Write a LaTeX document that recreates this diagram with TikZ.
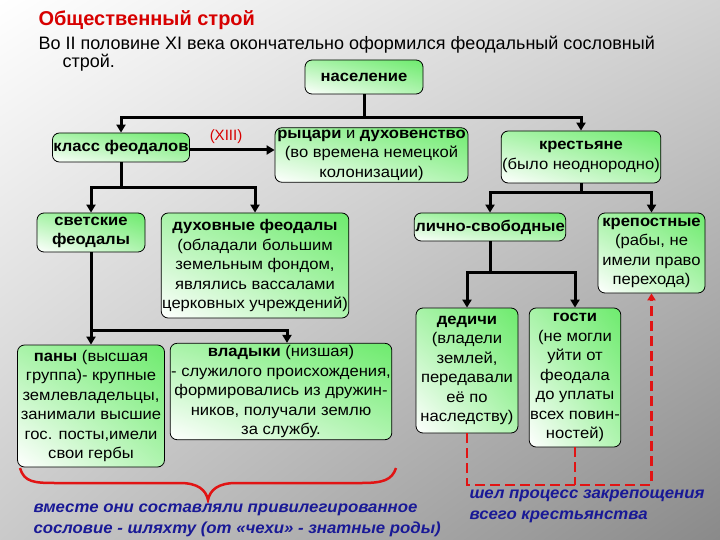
\documentclass[tikz,border=0pt]{standalone}
\usepackage{fontspec}
\setmainfont{Liberation Sans}
\newfontfamily\boxfam[FakeStretch=1.07]{Liberation Sans}
\newfontfamily\notefam[FakeStretch=1.05]{Liberation Sans}
\usetikzlibrary{arrows.meta,shadings}
\definecolor{boxgreen}{RGB}{110,235,110}
\definecolor{titlered}{RGB}{215,0,0}
\definecolor{notblue}{RGB}{25,25,150}
\definecolor{dashred}{RGB}{225,20,20}
\newcommand\boxfont{\boxfam\fontsize{15.5}{19.5}\selectfont}
\tikzset{
  box/.style={draw=black, line width=0.8pt, rounded corners=7pt,
    upper left=boxgreen!60!white, upper right=boxgreen,
    lower left=white, lower right=boxgreen!55!white,
    align=center, inner xsep=1pt, inner ysep=2pt, font=\boxfont},
  conn/.style={line width=3pt, -{Triangle[length=8pt,width=9pt]}},
  link/.style={line width=3pt},
  reddash/.style={dashred, line width=2.6pt, dash pattern=on 10pt off 5pt},
  note/.style={notblue, font=\notefam\fontsize{16}{21}\selectfont\bfseries\itshape, align=left, anchor=west}
}
\begin{document}
\begin{tikzpicture}[x=1pt,y=-1pt]
\shade[upper left=white, upper right=gray!35, lower left=gray!42, lower right=gray!92]
  (0,0) rectangle (720,540);
\useasboundingbox (0,0) rectangle (720,540);
\node[anchor=west, text=titlered, font=\fontsize{20}{23}\selectfont\bfseries] (title) at (35,20) {Общественный строй};
\node[anchor=west, font=\fontsize{18}{21}\selectfont] (sub1) at (35,45) {Во II половине XI века окончательно оформился феодальный сословный};
\node[anchor=west, font=\fontsize{18}{21}\selectfont] (sub2) at (59,63) {строй.};

\node[box, minimum width=118pt, minimum height=34pt] (nas) at (364,77) {\textbf{население}};
\node[box, minimum width=137pt, minimum height=29pt] (klass) at (121,147.5) {\textbf{класс феодалов}};
\node[box, minimum width=193pt, minimum height=54pt] (ryc) at (371.5,155) {\textbf{рыцари} и \textbf{духовенство}\\(во времена немецкой\\колонизации)};
\node[box, minimum width=158pt, minimum height=52pt] (krest) at (581,157) {\textbf{крестьяне}\\(было неоднородно)};
\node[text=titlered, font=\fontsize{15}{18}\selectfont] (xiii) at (226,137) {(XIII)};

\node[box, minimum width=108pt, minimum height=39pt] (svet) at (91,232.5) {\textbf{светские}\\\textbf{феодалы}};
\node[box, minimum width=186pt, minimum height=105pt] (duh) at (255,265.5) {\textbf{духовные феодалы}\\(обладали большим\\земельным фондом,\\являлись вассалами\\церковных учреждений)};
\node[box, minimum width=146pt, minimum height=28pt] (lich) at (490,227) {\textbf{лично-свободные}};
\node[box, minimum width=107pt, minimum height=80pt] (krep) at (651.5,253) {\textbf{крепостные}\\(рабы, не\\имели право\\перехода)};

\node[box, minimum width=147pt, minimum height=122pt] (pany) at (91,406) {\textbf{паны} (высшая\\группа)- крупные\\землевладельцы,\\занимали высшие\\гос. посты,имели\\свои гербы};
\node[box, minimum width=218pt, minimum height=93pt] (vlad) at (281,391.5) {\textbf{владыки} (низшая)\\- служилого происхождения,\\формировались из дружин-\\ников, получали землю\\за службу.};
\node[box, minimum width=102pt, minimum height=125pt] (ded) at (467,370.5) {\textbf{дедичи}\\(владели\\землей,\\передавали\\её по\\наследству)};
\node[box, minimum width=90pt, minimum height=139pt] (gost) at (575,377.5) {\textbf{гости}\\(не могли\\уйти от\\феодала\\до уплаты\\всех повин-\\ностей)};

\coordinate (j1) at (364,118);
\draw[link] (nas.south) -- (j1);
\draw[conn] (j1) -| (klass.north);
\draw[conn] (j1) -| (krest.north);
\draw[conn] (klass.east |- 0,150) -- (ryc.west |- 0,150);

\coordinate (j2) at (121,188);
\draw[link] (klass.south) -- (j2);
\draw[conn] (j2) -| (svet.north);
\draw[conn] (j2) -| (duh.north);

\coordinate (j3) at (91,330);
\draw[link] (svet.south) -- (j3);
\draw[conn] (j3) -- (pany.north);
\draw[conn] (j3) -| ([xshift=6pt]vlad.north);

\coordinate (j4) at (581,193);
\draw[link] (krest.south) -- (j4);
\draw[conn] (j4) -| (lich.north);
\draw[conn] (j4) -| (krep.north);

\coordinate (j5) at (490,272);
\draw[link] (lich.south) -- (j5);
\draw[conn] (j5) -| (ded.north);
\draw[conn] (j5) -| (gost.north);

\coordinate (rb) at (651.5,485);
\draw[reddash, -{Triangle[length=7pt,width=8pt]}] (ded.south) |- (rb) -- (krep.south);
\draw[reddash] (gost.south) -- (gost.south |- rb);

\draw[dashred, line width=2.5pt] (20,468) .. controls (24,482) and (34,483) .. (55,483)
  -- (180,483) .. controls (198,483) and (206,490) .. (208,500)
  .. controls (210,490) and (218,483) .. (236,483)
  -- (362,483) .. controls (383,483) and (392,480) .. (396,468);

\node[note] (noteL) at (30,520) {вместе они составляли привилегированное\\сословие - шляхту (от «чехи» - знатные роды)};
\node[note] (noteR) at (466,506) {шел процесс закрепощения\\всего крестьянства};
\end{tikzpicture}
\end{document}
